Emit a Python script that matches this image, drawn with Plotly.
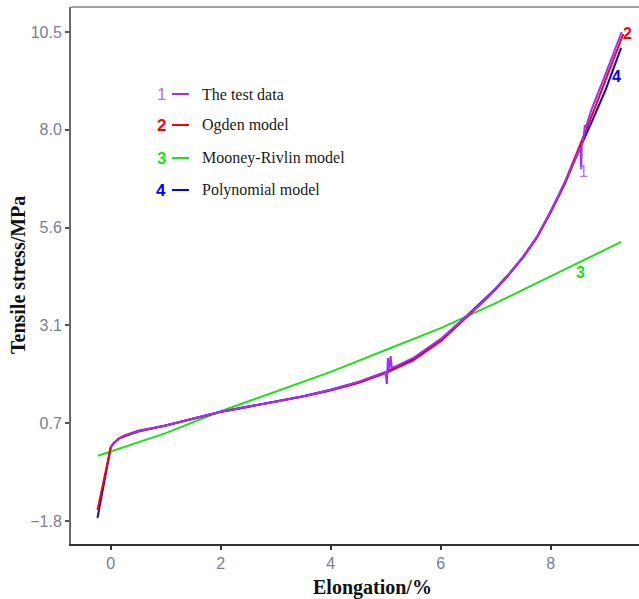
import plotly.graph_objects as go

# ---- data ----
test_x = [0.0, 0.05, 0.15, 0.25, 0.5, 1.0, 1.5, 2.0, 2.5, 3.0, 3.5, 4.0, 4.5, 5.0,
          5.02, 5.04, 5.06, 5.09, 5.11, 5.2, 5.5, 6.0, 6.3, 6.5, 6.75, 7.0, 7.25,
          7.5, 7.75, 8.0, 8.25, 8.5, 8.54, 8.555, 8.565, 8.6, 8.62, 8.64, 8.75,
          9.0, 9.29]
test_y = [0.05, 0.15, 0.27, 0.34, 0.46, 0.6, 0.78, 0.95, 1.08, 1.2, 1.34, 1.5, 1.7, 1.95,
          1.65, 2.3, 1.98, 2.35, 2.05, 2.1, 2.3, 2.78, 3.15, 3.38, 3.7, 4.05, 4.43,
          4.85, 5.35, 6.0, 6.7, 7.5, 7.6, 7.05, 7.65, 7.85, 8.15, 8.12, 8.58,
          9.45, 10.5]

ogden_x = [-0.24, 0.0, 0.05, 0.15, 0.25, 0.5, 1.0, 1.5, 2.0, 2.5, 3.0, 3.5, 4.0, 4.5,
           5.0, 5.5, 6.0, 6.3, 6.5, 6.75, 7.0, 7.25, 7.5, 7.75, 8.0, 8.25, 8.5,
           8.75, 9.0, 9.32]
ogden_y = [-1.52, 0.05, 0.16, 0.28, 0.35, 0.47, 0.6, 0.77, 0.94, 1.07, 1.2, 1.33, 1.48, 1.67,
           1.92, 2.24, 2.72, 3.1, 3.35, 3.68, 4.03, 4.41, 4.83, 5.33, 5.98, 6.7, 7.55,
           8.4, 9.3, 10.45]

mooney_x = [-0.23, 0.0, 1.0, 2.0, 3.0, 4.0, 5.0, 6.0, 7.0, 8.0, 9.0, 9.28]
mooney_y = [-0.16, -0.05, 0.41, 0.96, 1.45, 1.95, 2.5, 3.05, 3.68, 4.35, 5.03, 5.22]

poly_x = [-0.24, 0.0, 0.05, 0.15, 0.25, 0.5, 1.0, 1.5, 2.0, 2.5, 3.0, 3.5, 4.0, 4.5,
          5.0, 5.5, 6.0, 6.3, 6.5, 6.75, 7.0, 7.25, 7.5, 7.75, 8.0, 8.25, 8.5,
          8.75, 9.0, 9.28]
poly_y = [-1.72, 0.05, 0.15, 0.27, 0.33, 0.45, 0.6, 0.78, 0.95, 1.08, 1.21, 1.34, 1.5, 1.69,
          1.94, 2.27, 2.74, 3.13, 3.38, 3.7, 4.05, 4.43, 4.85, 5.34, 5.97, 6.66, 7.48,
          8.25, 9.05, 10.1]

y_tickvals = [-1.8, 0.66, 3.12, 5.58, 8.04, 10.5]
y_ticktext = ["\u22121.8", "0.7", "3.1", "5.6", "8.0", "10.5"]
x_tickvals = [0, 2, 4, 6, 8]

series_names = ["The test data", "Ogden model", "Mooney-Rivlin model", "Polynomial model"]
series_nums = ["1", "2", "3", "4"]
series_colors = ["#9B30FF", "#FF0000", "#1EE01E", "#0000FF"]
num_colors = ["#B070FF", "#FF0000", "#1EE01E", "#0000FF"]

# end labels (data coordinates)
end_label_x = [8.59, 9.39, 8.55, 9.19]
end_label_y = [6.98, 10.45, 4.44, 9.37]

fig = go.Figure()

# draw order: green, blue, red, purple
fig.add_trace(go.Scatter(x=mooney_x, y=mooney_y, mode="lines",
                         line=dict(color=series_colors[2], width=2), showlegend=False))
fig.add_trace(go.Scatter(x=poly_x, y=poly_y, mode="lines",
                         line=dict(color=series_colors[3], width=2), showlegend=False))
fig.add_trace(go.Scatter(x=ogden_x, y=ogden_y, mode="lines",
                         line=dict(color=series_colors[1], width=2), showlegend=False))
fig.add_trace(go.Scatter(x=test_x, y=test_y, mode="lines",
                         line=dict(color=series_colors[0], width=2), showlegend=False))

# ---- geometry ----
L, R, T, B = 71, 639, 7, 544
W, H = 639, 599
pw, ph = R - L, B - T

def px(xp):
    return (xp - L) / pw

def py(yp):
    return (B - yp) / ph

annotations = []
shapes = []

# legend (custom)
rows = [94, 125, 158, 190]
for i in range(4):
    annotations.append(dict(
        x=px(161), y=py(rows[i]), xref="paper", yref="paper",
        text=(series_nums[i] if i == 0 else "<b>" + series_nums[i] + "</b>"),
        showarrow=False, xanchor="center", yanchor="middle",
        font=dict(family="Liberation Sans", size=17, color=num_colors[i])))
    shapes.append(dict(type="line", xref="paper", yref="paper",
                       x0=px(172), x1=px(189), y0=py(rows[i]), y1=py(rows[i]),
                       line=dict(color=series_colors[i], width=2)))
    annotations.append(dict(
        x=px(200), y=py(rows[i]), xref="paper", yref="paper",
        text=series_names[i], showarrow=False, xanchor="left", yanchor="middle",
        font=dict(family="Liberation Serif", size=16, color="#1a1a1a")))

# end labels
for i in range(4):
    annotations.append(dict(
        x=end_label_x[i], y=end_label_y[i], xref="x", yref="y",
        text=(series_nums[i] if i == 0 else "<b>" + series_nums[i] + "</b>"),
        showarrow=False, xanchor="center", yanchor="middle",
        font=dict(family="Liberation Sans", size=16, color=num_colors[i])))

# axis titles
annotations.append(dict(
    x=px(372), y=py(587), xref="paper", yref="paper", text="<b>Elongation/%</b>",
    showarrow=False, xanchor="center", yanchor="middle",
    font=dict(family="Liberation Serif", size=20, color="#111111")))
annotations.append(dict(
    x=px(18), y=py(275), xref="paper", yref="paper", text="<b>Tensile stress/MPa</b>",
    showarrow=False, xanchor="center", yanchor="middle", textangle=-90,
    font=dict(family="Liberation Serif", size=20, color="#111111")))

# top border of panel
shapes.append(dict(type="line", xref="paper", yref="paper", x0=0, x1=1, y0=1, y1=1,
                   line=dict(color="#808080", width=1.5)))

x0 = (L - 110.7) / 55.0
x1 = (R - 110.7) / 55.0
ppu = 489 / 12.3
y0 = -1.8 - (B - 521) / ppu
y1 = 10.5 + (32 - T) / ppu

tick_font = dict(family="Liberation Sans", size=16, color="#77808f")

fig.update_layout(
    width=W, height=H,
    margin=dict(l=L, r=W - R, t=T, b=H - B),
    paper_bgcolor="white", plot_bgcolor="white",
    xaxis=dict(range=[x0, x1], tickvals=x_tickvals, showgrid=False, zeroline=False,
               showline=True, linecolor="#333333", linewidth=2,
               ticks="outside", ticklen=4, tickwidth=1.5, tickcolor="#333333",
               tickfont=tick_font),
    yaxis=dict(range=[y0, y1], tickvals=y_tickvals, ticktext=y_ticktext,
               showgrid=False, zeroline=False,
               showline=True, linecolor="#6a6a6a", linewidth=2,
               ticks="outside", ticklen=4, tickwidth=1.5, tickcolor="#555555",
               tickfont=tick_font),
    annotations=annotations, shapes=shapes, showlegend=False,
)

fig.write_html("out.html", config={"displayModeBar": False},
               post_script="document.body.style.margin='0px';document.body.style.overflow='hidden';")
